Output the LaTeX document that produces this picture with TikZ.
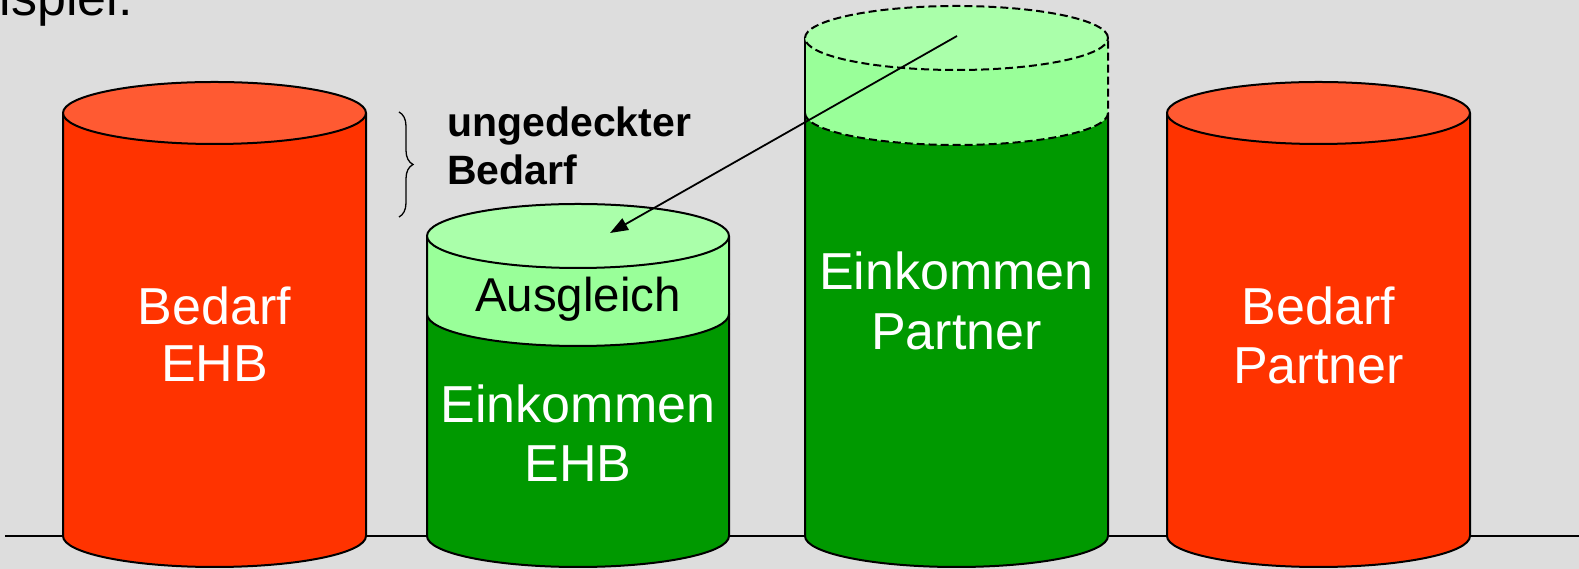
\documentclass[tikz,border=0pt]{standalone}
\usepackage{fontspec}
\setmainfont{Liberation Sans}
\usetikzlibrary{arrows.meta,decorations.pathreplacing}
\definecolor{bg}{HTML}{DDDDDD}
\definecolor{redside}{HTML}{FF3300}
\definecolor{redtop}{HTML}{FF5A32}
\definecolor{darkgreen}{HTML}{009900}
\definecolor{lightside}{HTML}{99FF99}
\definecolor{lighttop}{HTML}{AAFFAA}
\begin{document}
\begin{tikzpicture}[x=1pt,y=1pt,
  outline/.style={draw=black,line width=2pt,line join=round},
  dashline/.style={draw=black,line width=2pt,dash pattern=on 8pt off 4pt},
  biglabel/.style={font=\fontsize{52}{60}\selectfont,text=white,inner sep=0pt,anchor=base},
  blacklabel/.style={font=\fontsize{47.5}{57}\selectfont,text=black,inner sep=0pt,anchor=base},
  titlelabel/.style={font=\fontsize{52}{60}\selectfont,text=black,inner sep=0pt,anchor=base east},
  boldlabel/.style={font=\bfseries\fontsize{41}{48}\selectfont,text=black,inner sep=0pt,anchor=base west}]
\useasboundingbox (0,0) rectangle (1579,569);
\fill[bg] (0,0) rectangle (1579,569);
% baseline
\coordinate (lineL) at (5,33);
\coordinate (lineR) at (1579,33);
\draw[line width=2pt] (lineL) -- (lineR);
% title (cut off at top, as in the reference)
\node[titlelabel] (title) at (133,553) {Beispiel:};
% Cylinder 1: Bedarf EHB
\path[fill=redside,outline] (63,456) -- (63,33) arc[start angle=180,end angle=360,x radius=151.5,y radius=31] -- (366,456) -- cycle;
\path[fill=redtop,outline] (214.5,456) ellipse[x radius=151.5,y radius=31];
\node[biglabel] (b1a) at (214.5,244) {Bedarf};
\node[biglabel] (b1b) at (214.5,187) {EHB};
% Cylinder 2: Einkommen EHB + Ausgleich
\path[fill=darkgreen,outline] (427,255) -- (427,33) arc[start angle=180,end angle=360,x radius=151,y radius=31] -- (729,255) -- cycle;
\path[fill=lightside,outline] (427,333) -- (427,255) arc[start angle=180,end angle=360,x radius=151,y radius=32] -- (729,333) -- cycle;
\path[fill=lighttop,outline] (578,333) ellipse[x radius=151,y radius=32];
\node[blacklabel] (aus) at (578,257) {Ausgleich};
\node[biglabel] (e1a) at (578,146) {Einkommen};
\node[biglabel] (e1b) at (578,87) {EHB};
% Cylinder 3: Einkommen Partner
\path[fill=darkgreen,outline] (805,456) -- (805,33) arc[start angle=180,end angle=360,x radius=151.5,y radius=31] -- (1108,456) -- cycle;
\fill[lightside] (805,531) -- (805,456) arc[start angle=180,end angle=360,x radius=151.5,y radius=32] -- (1108,531) -- cycle;
\draw[dashline] (805,456) arc[start angle=180,end angle=360,x radius=151.5,y radius=32] -- (1108,531);
\draw[outline] (805,456) -- (805,531);
\path[fill=lighttop] (956.5,531) ellipse[x radius=151.5,y radius=32];
\draw[dashline] (956.5,531) ellipse[x radius=151.5,y radius=32];
\node[biglabel] (e2a) at (956.5,279) {Einkommen};
\node[biglabel] (e2b) at (956.5,219) {Partner};
% Cylinder 4: Bedarf Partner
\path[fill=redside,outline] (1167,456) -- (1167,33) arc[start angle=180,end angle=360,x radius=151.5,y radius=31] -- (1470,456) -- cycle;
\path[fill=redtop,outline] (1318.5,456) ellipse[x radius=151.5,y radius=31];
\node[biglabel] (b2a) at (1318.5,244) {Bedarf};
\node[biglabel] (b2b) at (1318.5,185) {Partner};
% brace and label
\coordinate (braceTop) at (399,457);
\coordinate (braceBot) at (399,352);
\draw[line width=1.3pt,decorate,decoration={brace,amplitude=14pt}] (braceTop) -- (braceBot);
\node[boldlabel] (ung1) at (447,432) {ungedeckter};
\node[boldlabel] (ung2) at (447,384) {Bedarf};
% arrow
\coordinate (arrS) at (957,533);
\coordinate (arrE) at (610,336);
\draw[line width=1.8pt,-{Triangle[length=18pt,width=13pt]}] (arrS) -- (arrE);
\end{tikzpicture}
\end{document}
